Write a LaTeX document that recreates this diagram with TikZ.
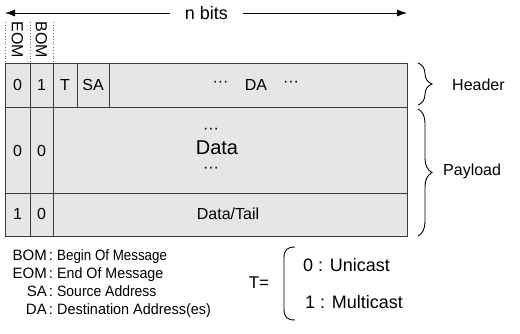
\documentclass[tikz,border=0pt]{standalone}
\usepackage{fontspec}
\setmainfont{Liberation Sans}
\usetikzlibrary{decorations.pathreplacing,arrows.meta}
\definecolor{cellgray}{RGB}{230,230,230}
\definecolor{edgegray}{RGB}{60,60,60}
\definecolor{tickgray}{RGB}{110,110,110}
\begin{document}
\begin{tikzpicture}[x=1pt,y=-1pt,
  row/.style={draw=edgegray,fill=cellgray,line width=0.9pt,inner sep=0pt,anchor=north west},
  sep/.style={draw=edgegray,line width=0.9pt},
  txt/.style={inner sep=0pt,font=\fontsize{16}{19}\selectfont},
  big/.style={inner sep=0pt,font=\fontsize{20}{24}\selectfont},
  vtxt/.style={txt,rotate=-90},
  tick/.style={draw=tickgray,dotted,line width=0.8pt},
  lkey/.style={inner sep=0pt,font=\fontsize{15}{18}\selectfont,anchor=base east},
  lcol/.style={inner sep=0pt,font=\fontsize{15}{18}\selectfont,anchor=base},
  ldesc/.style={inner sep=0pt,font=\fontsize{15}{18}\selectfont,anchor=base west},
  tlgd/.style={inner sep=0pt,font=\fontsize{18}{21}\selectfont,anchor=west},
  curly/.style={draw=black,line width=0.9pt,decorate,decoration={brace,amplitude=14pt}},
  span/.style={draw=black,line width=0.9pt,-{Latex[length=10pt,width=7pt]}}]
\useasboundingbox (0,0) rectangle (520,333);

% width arrow
\node[inner sep=0pt,font=\fontsize{18}{21}\selectfont,inner xsep=15pt] (nbits) at (206.5,13) {n bits};
\coordinate (lend) at (5,13);
\coordinate (rend) at (407,13);
\draw[span] (nbits.west) -- (lend);
\draw[span] (nbits.east) -- (rend);

% flag column titles
\draw[tick] (5,22) -- (5,62);
\draw[tick] (30,22) -- (30,62);
\draw[tick] (53,22) -- (53,62);
\node[vtxt] (eomt) at (17.5,40) {EOM};
\node[vtxt] (bomt) at (41.5,40) {BOM};

% the three rows of the frame
\node[row,minimum width=402pt,minimum height=44pt] (hdr) at (5,63) {};
\node[row,minimum width=402pt,minimum height=86pt] (pay) at (5,107) {};
\node[row,minimum width=402pt,minimum height=43pt] (tail) at (5,193) {};

% column separators
\coordinate (c1t) at (30,63);  \coordinate (c1b) at (30,236);
\coordinate (c2t) at (53,63);  \coordinate (c2b) at (53,236);
\coordinate (c3t) at (77,63);  \coordinate (c3b) at (77,107);
\coordinate (c4t) at (109,63); \coordinate (c4b) at (109,107);
\draw[sep] (c1t) -- (c1b);
\draw[sep] (c2t) -- (c2b);
\draw[sep] (c3t) -- (c3b);
\draw[sep] (c4t) -- (c4b);

% header row
\node[txt] (h0) at (17.5,85) {0};
\node[txt] (h1) at (41.5,85) {1};
\node[txt] (ht) at (65,85) {T};
\node[txt] (hsa) at (93,85) {SA};
\node[txt] (hda) at (256,85) {DA};
\node[txt] (hdl) at (220.5,84) {···};
\node[txt] (hdr2) at (291,84) {···};

% middle row
\node[txt] (m0) at (17.5,151) {0};
\node[txt] (m1) at (41.5,151) {0};
\node[txt] (mdu) at (211,131) {···};
\node[big] (mdata) at (217,148) {Data};
\node[txt] (mdd) at (211,170) {···};

% last row
\node[txt] (t0) at (17.5,214) {1};
\node[txt] (t1) at (41.5,214) {0};
\node[txt] (tdata) at (228,214) {Data/Tail};

% braces
\draw[curly] (418,63) -- (418,105);
\draw[curly] (418,109) -- (418,236);
\node[txt,anchor=west] (hlab) at (452,85) {Header};
\node[txt,anchor=west] (plab) at (443,171) {Payload};

% abbreviations
\node[lkey] (kbom) at (47,260.5) {BOM};
\node[lcol] (cbom) at (51,260.5) {:};
\node[ldesc,xscale=0.89] (dbom) at (57,260.5) {Begin Of Message};
\node[lkey] (keom) at (47,278.5) {EOM};
\node[lcol] (ceom) at (51,278.5) {:};
\node[ldesc,xscale=0.95] (deom) at (57,278.5) {End Of Message};
\node[lkey] (ksa) at (47,296.5) {SA};
\node[lcol] (csa) at (51,296.5) {:};
\node[ldesc,xscale=0.93] (dsa) at (57,296.5) {Source Address};
\node[lkey] (kda) at (47,314.5) {DA};
\node[lcol] (cda) at (51,314.5) {:};
\node[ldesc,xscale=0.96] (dda) at (57,314.5) {Destination Address(es)};

% type field values
\node[inner sep=0pt,font=\fontsize{17}{20}\selectfont] (teq) at (259,283) {T=};
\draw[line width=0.9pt] (295,247) .. controls (287,247) and (284,250) .. (284,258)
  -- (284,309) .. controls (284,317) and (287,320) .. (295,320);
\node[tlgd] (uni) at (303,265) {0 : Unicast};
\node[tlgd] (multi) at (305,302) {1 : Multicast};
\end{tikzpicture}
\end{document}
